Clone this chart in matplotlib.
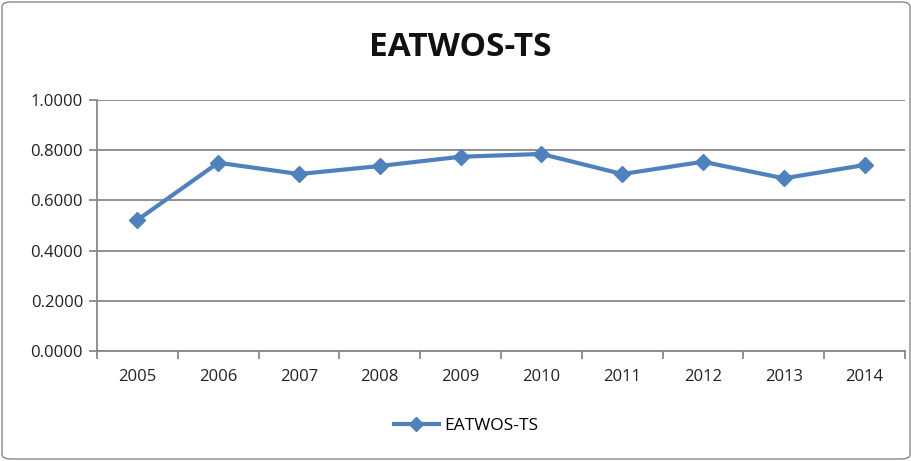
import matplotlib.pyplot as plt
import numpy as np
from matplotlib.patches import FancyBboxPatch

years = ['2005', '2006', '2007', '2008', '2009', '2010', '2011', '2012', '2013', '2014']
values = [0.522, 0.750, 0.705, 0.737, 0.774, 0.785, 0.705, 0.754, 0.688, 0.741]
yticks = [0.0, 0.2, 0.4, 0.6, 0.8, 1.0]
title = 'EATWOS-TS'
series_name = 'EATWOS-TS'

plt.rcParams['font.family'] = ['Open Sans', 'DejaVu Sans']

W, H = 912, 461
fig = plt.figure(figsize=(W/100, H/100), dpi=100)
fig.patch.set_facecolor('white')

# outer border
border = FancyBboxPatch((2/W, 2/H), 1-4/W, 1-4/H, boxstyle='round,pad=0,rounding_size=0.01',
                        transform=fig.transFigure, fill=False, edgecolor='#888888', linewidth=1.0)
fig.patches.append(border)

ax = fig.add_axes([97/W, 1-351/H, (905-97)/W, (351-100)/H])
x = np.arange(len(years))
ax.plot(x, values, color='#4F81BD', linewidth=3, marker='D', markersize=8, zorder=3)

ax.set_xlim(-0.5, len(years)-0.5)
ax.set_ylim(0, 1.0)
ax.set_yticks(yticks)
ax.set_yticklabels([f'{v:.4f}' for v in yticks], fontsize=12, color='#222222')
ax.set_xticks(x)
ax.set_xticklabels(years, fontsize=12, color='#222222')
ax.set_xticks(np.arange(-0.5, len(years), 1.0), minor=True)
ax.tick_params(axis='x', which='major', length=0, pad=13)
ax.tick_params(axis='x', which='minor', length=6, width=1.3, color='#888888', direction='out')
ax.tick_params(axis='y', length=6, width=1.3, color='#888888', direction='out', pad=4)
ax.grid(axis='y', color='#888888', linewidth=1.3, zorder=0)
for s in ['top', 'right']:
    ax.spines[s].set_visible(False)
for s in ['left', 'bottom']:
    ax.spines[s].set_color('#888888')
    ax.spines[s].set_linewidth(1.3)

fig.text(460/W, 1-48/H, title, ha='center', va='center', fontsize=24, fontweight='bold', color='#111111')

fig.legend(handles=ax.lines, labels=[series_name], loc='center', bbox_to_anchor=(466/W, 1-426/H),
           frameon=False, fontsize=12.5, handlelength=2.6, handletextpad=0.3, markerscale=0.85)

fig.savefig('out.png', dpi=100)
